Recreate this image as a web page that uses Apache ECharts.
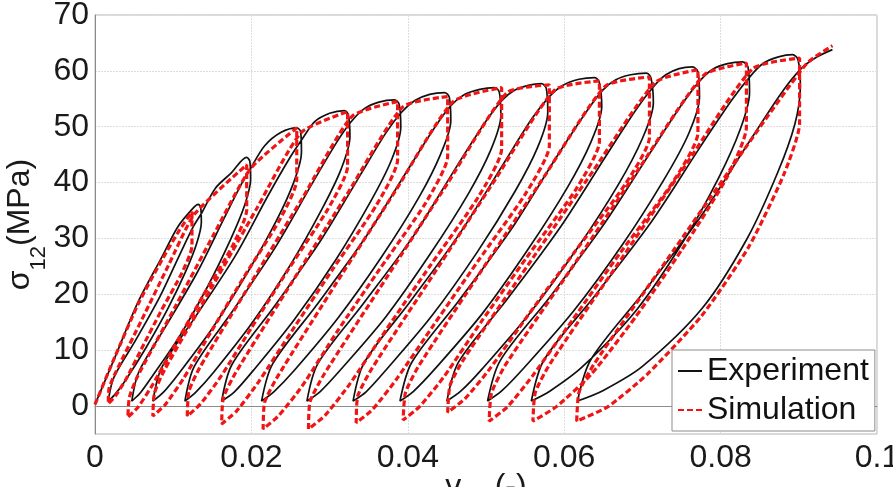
<!DOCTYPE html>
<html>
<head>
<meta charset="utf-8">
<script src="https://cdn.jsdelivr.net/npm/echarts/dist/echarts.min.js"></script>
<style>
html,body{margin:0;padding:0;background:#fff;}
#main{width:893px;height:487px;}
</style>
</head>
<body>
<div id="main"></div>
<script>
// Tick values
const xTicks = [0, 0.02, 0.04, 0.06, 0.08, 0.1];
const yTicks = [0, 10, 20, 30, 40, 50, 60, 70];

// Experiment: initial loading, then each unload / reload cycle [strain, stress MPa]
const expLoad = [[0,0.3],[0.0026,8.9],[0.0055,18.6],[0.0086,26.8],[0.0106,32.1],[0.0124,35.2]];
const expCycle01 = [[0.0132,36.1],[0.0135,35.6],[0.0136,32.9],[0.0130,29.1],[0.0116,24.1],[0.0093,17.4],[0.0065,10.4],[0.0038,4.4],[0.0025,2.0],[0.0017,0.9],[0.0024,5.1],[0.0052,11.8],[0.0083,19.6],[0.0109,27.3],[0.0126,32.2],[0.0137,34.7],[0.0154,39.0],[0.0174,41.7]];
const expCycle02 = [[0.0194,44.5],[0.0198,43.8],[0.0199,40.6],[0.0191,35.8],[0.0173,29.7],[0.0144,21.4],[0.0109,12.7],[0.0073,5.3],[0.0057,2.2],[0.0047,0.9],[0.0056,6.1],[0.0091,14.4],[0.0131,24.0],[0.0165,33.6],[0.0187,39.7],[0.0200,42.8],[0.0217,46.6],[0.0238,49.0]];
const expCycle03 = [[0.0258,49.8],[0.0263,49.1],[0.0264,45.4],[0.0254,40.0],[0.0232,33.2],[0.0195,23.9],[0.0151,14.1],[0.0107,5.8],[0.0087,2.4],[0.0074,0.9],[0.0085,6.8],[0.0129,16.1],[0.0179,26.8],[0.0221,37.6],[0.0249,44.4],[0.0265,47.8],[0.0281,50.9],[0.0300,52.4]];
const expCycle04 = [[0.0319,52.9],[0.0324,52.1],[0.0326,48.2],[0.0315,42.5],[0.0290,35.2],[0.0250,25.3],[0.0201,14.9],[0.0152,6.1],[0.0129,2.5],[0.0115,0.9],[0.0127,7.1],[0.0176,17.0],[0.0231,28.5],[0.0278,39.9],[0.0309,47.2],[0.0327,50.8],[0.0344,53.2],[0.0363,54.4]];
const expCycle05 = [[0.0383,54.8],[0.0389,54.0],[0.0391,49.9],[0.0379,44.0],[0.0352,36.5],[0.0308,26.2],[0.0255,15.5],[0.0202,6.3],[0.0178,2.5],[0.0162,0.9],[0.0175,7.4],[0.0228,17.6],[0.0288,29.5],[0.0339,41.3],[0.0372,48.9],[0.0392,52.6],[0.0409,54.7],[0.0428,55.8]];
const expCycle06 = [[0.0447,56.1],[0.0453,55.3],[0.0455,51.1],[0.0442,45.1],[0.0414,37.3],[0.0367,26.8],[0.0311,15.8],[0.0255,6.4],[0.0229,2.6],[0.0213,0.9],[0.0227,7.5],[0.0283,18.0],[0.0346,30.2],[0.0400,42.3],[0.0435,50.0],[0.0456,53.9],[0.0473,55.8],[0.0492,56.7]];
const expCycle07 = [[0.0511,57.0],[0.0517,56.2],[0.0519,52.0],[0.0506,45.8],[0.0477,37.9],[0.0429,27.3],[0.0372,16.0],[0.0314,6.5],[0.0288,2.6],[0.0271,0.9],[0.0285,7.6],[0.0343,18.3],[0.0408,30.6],[0.0463,43.0],[0.0499,50.8],[0.0521,54.8],[0.0536,56.5],[0.0554,57.4]];
const expCycle08 = [[0.0571,57.7],[0.0577,56.9],[0.0579,52.6],[0.0566,46.3],[0.0537,38.4],[0.0489,27.6],[0.0431,16.2],[0.0373,6.6],[0.0347,2.6],[0.0330,0.9],[0.0344,7.7],[0.0402,18.5],[0.0467,31.0],[0.0523,43.5],[0.0559,51.5],[0.0581,55.4],[0.0598,57.4],[0.0619,58.5]];
const expCycle09 = [[0.0639,58.8],[0.0645,57.9],[0.0648,53.6],[0.0634,47.2],[0.0604,39.1],[0.0554,28.1],[0.0495,16.5],[0.0435,6.7],[0.0407,2.6],[0.0390,0.9],[0.0405,7.8],[0.0465,18.8],[0.0532,31.6],[0.0589,44.3],[0.0627,52.4],[0.0649,56.5],[0.0666,58.4],[0.0685,59.3]];
const expCycle10 = [[0.0705,59.6],[0.0711,58.7],[0.0714,54.3],[0.0700,47.9],[0.0669,39.6],[0.0618,28.5],[0.0557,16.8],[0.0496,6.8],[0.0468,2.7],[0.0450,0.9],[0.0465,7.9],[0.0527,19.1],[0.0595,32.0],[0.0654,44.9],[0.0692,53.1],[0.0715,57.3],[0.0730,59.3],[0.0747,60.4]];
const expCycle11 = [[0.0764,60.7],[0.0771,59.8],[0.0773,55.3],[0.0759,48.7],[0.0727,40.4],[0.0675,29.0],[0.0612,17.0],[0.0549,6.9],[0.0520,2.7],[0.0502,0.9],[0.0518,8.1],[0.0581,19.4],[0.0651,32.6],[0.0712,45.8],[0.0751,54.1],[0.0774,58.3],[0.0790,60.3],[0.0809,61.3]];
const expCycle12 = [[0.0828,61.6],[0.0835,60.7],[0.0837,56.1],[0.0825,49.5],[0.0798,41.0],[0.0752,29.4],[0.0693,17.3],[0.0623,7.0],[0.0582,2.7],[0.0558,0.9],[0.0574,8.2],[0.0639,19.7],[0.0712,33.1],[0.0774,46.4],[0.0815,54.9],[0.0839,59.2],[0.0855,61.4],[0.0874,62.5]];
const expCycle13 = [[0.0892,62.9],[0.0899,62.0],[0.0902,57.3],[0.0895,50.5],[0.0873,41.8],[0.0834,30.0],[0.0777,17.6],[0.0700,7.1],[0.0650,2.8],[0.0617,0.9],[0.0634,8.3],[0.0700,20.1],[0.0774,33.8],[0.0837,47.4],[0.0878,56.1],[0.0903,60.4],[0.0922,62.4],[0.0943,63.8]];

// Simulation
const simLoad = [[0,0.3],[0.0026,9.0],[0.0056,18.5],[0.0087,26.5],[0.0108,31.5]];
const simCycle01 = [[0.0124,34.8],[0.0124,28.6],[0.0111,23.8],[0.0084,16.9],[0.0060,10.4],[0.0040,4.9],[0.0026,1.8],[0.0017,0.4],[0.0018,3.2],[0.0026,5.9],[0.0060,15.5],[0.0094,25.2],[0.0127,34.3]];
const simCycle02 = [[0.0194,43.2],[0.0194,35.1],[0.0176,28.7],[0.0138,19.7],[0.0103,11.1],[0.0074,3.9],[0.0055,-0.2],[0.0042,-2.0],[0.0044,1.6],[0.0054,5.2],[0.0103,17.9],[0.0151,30.5],[0.0199,42.5]];
const simCycle03 = [[0.0258,49.8],[0.0258,40.5],[0.0236,33.3],[0.0190,23.0],[0.0148,13.2],[0.0113,4.9],[0.0090,0.3],[0.0074,-1.8],[0.0076,2.3],[0.0089,6.5],[0.0148,20.9],[0.0207,35.4],[0.0264,49.0]];
const simCycle04 = [[0.0323,52.7],[0.0323,42.9],[0.0298,35.3],[0.0247,24.4],[0.0200,14.0],[0.0161,5.3],[0.0135,0.4],[0.0118,-1.8],[0.0120,2.6],[0.0134,6.9],[0.0200,22.2],[0.0266,37.4],[0.0329,51.9]];
const simCycle05 = [[0.0387,54.5],[0.0387,44.1],[0.0360,36.0],[0.0304,24.5],[0.0252,13.5],[0.0209,4.3],[0.0181,-0.9],[0.0162,-3.2],[0.0164,1.4],[0.0180,6.0],[0.0252,22.2],[0.0324,38.3],[0.0394,53.6]];
const simCycle06 = [[0.0451,55.4],[0.0451,44.7],[0.0423,36.4],[0.0364,24.5],[0.0309,13.2],[0.0265,3.6],[0.0235,-1.7],[0.0215,-4.1],[0.0217,0.7],[0.0234,5.4],[0.0309,22.1],[0.0385,38.7],[0.0458,54.5]];
const simCycle07 = [[0.0520,57.0],[0.0520,46.0],[0.0490,37.4],[0.0429,25.2],[0.0372,13.6],[0.0325,3.8],[0.0294,-1.7],[0.0273,-4.1],[0.0275,0.8],[0.0293,5.7],[0.0372,22.8],[0.0451,39.9],[0.0527,56.1]];
const simCycle08 = [[0.0581,57.5],[0.0581,46.6],[0.0551,38.1],[0.0490,26.0],[0.0433,14.5],[0.0386,4.9],[0.0355,-0.6],[0.0334,-3.0],[0.0336,1.8],[0.0354,6.7],[0.0433,23.6],[0.0512,40.6],[0.0588,56.6]];
const simCycle09 = [[0.0645,58.2],[0.0645,47.3],[0.0615,38.8],[0.0552,26.6],[0.0494,15.1],[0.0447,5.4],[0.0415,-0.1],[0.0394,-2.5],[0.0397,2.4],[0.0414,7.2],[0.0494,24.2],[0.0575,41.2],[0.0653,57.3]];
const simCycle10 = [[0.0709,58.9],[0.0709,48.1],[0.0678,39.7],[0.0614,27.7],[0.0554,16.3],[0.0505,6.7],[0.0473,1.3],[0.0451,-1.1],[0.0454,3.7],[0.0472,8.5],[0.0554,25.3],[0.0637,42.1],[0.0717,58.0]];
const simCycle11 = [[0.0771,60.2],[0.0771,48.9],[0.0739,40.1],[0.0672,27.5],[0.0611,15.5],[0.0560,5.5],[0.0527,-0.2],[0.0504,-2.7],[0.0507,2.3],[0.0525,7.4],[0.0611,25.0],[0.0696,42.6],[0.0779,59.3]];
const simCycle12 = [[0.0833,61.4],[0.0833,49.9],[0.0808,40.9],[0.0751,28.1],[0.0691,15.9],[0.0634,5.6],[0.0590,-0.1],[0.0560,-2.7],[0.0563,2.4],[0.0582,7.6],[0.0669,25.5],[0.0757,43.5],[0.0841,60.4]];
const simCycle13 = [[0.0901,62.3],[0.0901,50.6],[0.0881,41.5],[0.0836,28.5],[0.0776,16.2],[0.0707,5.8],[0.0656,-0.1],[0.0616,-2.7],[0.0619,2.5],[0.0639,7.7],[0.0730,25.9],[0.0821,44.1],[0.0910,61.3],[0.0943,64.5]];

const expData = [].concat(expLoad, expCycle01, expCycle02, expCycle03, expCycle04, expCycle05, expCycle06,
  expCycle07, expCycle08, expCycle09, expCycle10, expCycle11, expCycle12, expCycle13);
const simData = [].concat(simLoad, simCycle01, simCycle02, simCycle03, simCycle04, simCycle05, simCycle06,
  simCycle07, simCycle08, simCycle09, simCycle10, simCycle11, simCycle12, simCycle13);

const FONT = '"Liberation Sans", Arial, Helvetica, sans-serif';
const nameRich = {
  a: {fontSize: 32, fontFamily: FONT, color: '#1a1a1a', verticalAlign: 'top', lineHeight: 34},
  b: {fontSize: 22, fontFamily: FONT, color: '#1a1a1a', verticalAlign: 'top', lineHeight: 22, padding: [24, 0, 0, 0]}
};
const chart = echarts.init(document.getElementById('main'), null, {renderer: 'canvas'});
chart.setOption({
  animation: false,
  backgroundColor: '#ffffff',
  grid: {left: 95, right: 16, top: 15, bottom: 53, containLabel: false, outerBoundsMode: 'none',
         show: true, borderColor: '#b4b4b4', borderWidth: 1, backgroundColor: '#fff'},
  xAxis: {
    type: 'value', min: xTicks[0], max: xTicks[xTicks.length - 1], interval: 0.02,
    axisLine: {show: true, lineStyle: {color: '#8c8c8c', width: 1}},
    axisTick: {show: false},
    splitLine: {show: true, lineStyle: {color: '#dddddd', width: 1, type: [2, 1]}},
    axisLabel: {
      margin: 8, fontSize: 32, fontFamily: FONT, color: '#1a1a1a', hideOverlap: false,
      formatter: function (v) { return xTicks.some(t => Math.abs(t - v) < 1e-9) ? String(+v.toFixed(2)) : ''; }
    },
    name: '{a|γ}{b|12}{a| (-)}', nameLocation: 'middle', nameGap: 37, nameMoveOverlap: false,
    nameTextStyle: {color: '#1a1a1a', rich: nameRich}
  },
  yAxis: {
    type: 'value', min: -5, max: 70, interval: 5,
    axisLine: {show: true, lineStyle: {color: '#8c8c8c', width: 1}},
    axisTick: {show: false},
    splitLine: {show: true, lineStyle: {color: ['rgba(0,0,0,0)', '#dddddd'], width: 1, type: [2, 1]}},
    axisLabel: {
      margin: 6, fontSize: 32, fontFamily: FONT, color: '#1a1a1a',
      formatter: function (v) { return yTicks.indexOf(v) >= 0 ? String(v) : ''; }
    },
    name: '{a|σ}{b|12}{a|(MPa)}', nameLocation: 'middle', nameGap: 57, nameRotate: 90, nameMoveOverlap: false,
    nameTextStyle: {color: '#1a1a1a', rich: nameRich}
  },
  legend: {
    orient: 'vertical', left: 672, top: 350,
    padding: [5, 6, 5, 5], itemGap: 7, itemWidth: 24, itemHeight: 2,
    itemStyle: {opacity: 0},
    backgroundColor: '#ffffff', borderColor: '#8c8c8c', borderWidth: 1,
    textStyle: {fontSize: 32, fontFamily: FONT, color: '#111'},
    data: ['Experiment', 'Simulation']
  },
  series: [
    {
      name: 'Experiment', type: 'line', data: expData, symbol: 'none', showSymbol: false,
      smooth: 0.3, lineStyle: {color: '#111111', width: 1.7}, itemStyle: {color: '#111111'}, z: 2
    },
    {
      name: 'Simulation', type: 'line', data: simData, symbol: 'none', showSymbol: false,
      smooth: 0.2, lineStyle: {color: '#f01414', width: 3.2, type: [6, 3]}, itemStyle: {color: '#f01414'}, z: 3
    }
  ]
});
</script>
</body>
</html>
